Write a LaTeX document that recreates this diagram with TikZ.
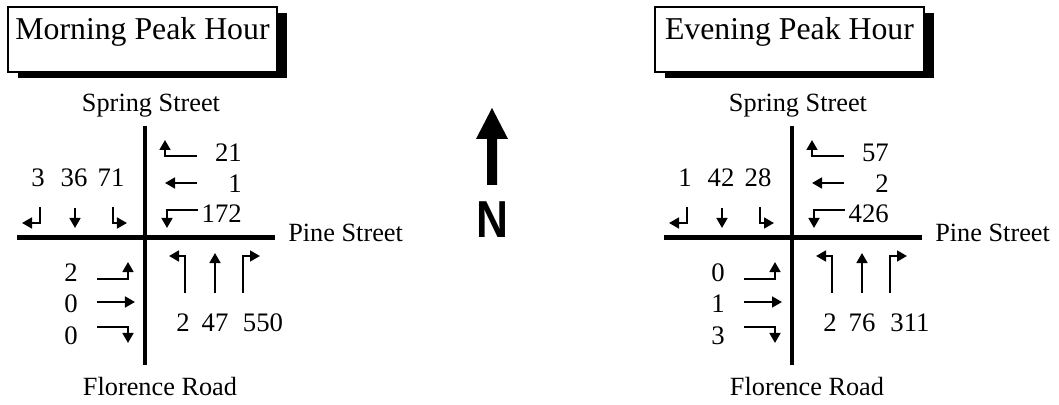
\documentclass[tikz,border=0pt]{standalone}
\usepackage{fontspec}
\setmainfont{Liberation Serif}
\setsansfont{Liberation Sans}
\usetikzlibrary{arrows.meta}

\tikzset{
  road/.style={line width=2.9pt},
  lane/.style={line width=1.6pt, -{Triangle[length=2.5mm,width=2.7mm]}},
  street/.style={font=\fontsize{18.7}{22}\selectfont, anchor=base, inner sep=0pt},
  volume/.style={font=\fontsize{19}{22}\selectfont, anchor=base, inner sep=0pt},
  headline/.style={font=\fontsize{22.6}{26}\selectfont, anchor=base, inner sep=0pt},
}

\begin{document}
\begin{tikzpicture}[x=0.025cm, y=-0.025cm]
    \useasboundingbox (0,0) rectangle (1059,405);

    % one crossing per peak hour
    \foreach \dx/\ttl/\sa/\sb/\sc/\wa/\wb/\wc/\ea/\eb/\ec/\na/\nb/\nc/\id in
        {145/Morning/3/36/71/21/1/172/2/0/0/2/47/550/am,
         792/Evening/1/42/28/57/2/426/0/1/3/2/76/311/pm}
    {
    \begin{scope}[shift={(\dx,237.5)}]
        \draw[road] (0,-111.5) -- (0,127.5);
        \draw[road] (-128,0) -- (130,0);

        % heading box with its shadow
        \fill (-127,-224.5) rectangle (142,-159.5);
        \draw[line width=0.8pt, fill=white] (-137,-230.5) rectangle (132,-165.5);
        \node[headline] (title-\id) at (-2.5,-198) {\ttl{} Peak Hour};

        \node[street] (spring-\id) at (6,-125.5) {Spring Street};
        \node[street, anchor=base west] (pine-\id) at (143,4.5) {Pine Street};
        \node[street] (florence-\id) at (15,158.5) {Florence Road};

        % southbound
        \draw[lane] (-105,-30.5) |- (-123,-14.5);
        \draw[lane] (-70,-29.5) -- (-70,-9.5);
        \draw[lane] (-32,-30.5) |- (-18,-14.5);
        \node[volume] (sr-\id) at (-107,-50.5) {\sa};
        \node[volume] (st-\id) at (-71,-50.5) {\sb};
        \node[volume] (sl-\id) at (-34,-50.5) {\sc};

        % westbound
        \draw[lane] (52,-81.5) -| (20,-97.5);
        \draw[lane] (52,-54.5) -- (20,-54.5);
        \draw[lane] (53,-27.5) -| (22,-9.5);
        \node[volume, anchor=base east] (wr-\id) at (97,-75.5) {\wa};
        \node[volume, anchor=base east] (wt-\id) at (97,-44.5) {\wb};
        \node[volume, anchor=base east] (wl-\id) at (97,-14.5) {\wc};

        % eastbound
        \draw[lane] (-48,41.5) -| (-17,24.5);
        \draw[lane] (-48,64.5) -- (-10,64.5);
        \draw[lane] (-48,89.5) -| (-17,105.5);
        \node[volume] (el-\id) at (-74,44.5) {\ea};
        \node[volume] (et-\id) at (-74,75.5) {\eb};
        \node[volume] (er-\id) at (-74,107.5) {\ec};

        % northbound
        \draw[lane] (40,55.5) |- (24,18.5);
        \draw[lane] (70,55.5) -- (70,15.5);
        \draw[lane] (98,55.5) |- (115,18.5);
        \node[volume] (nl-\id) at (38,94.5) {\na};
        \node[volume] (nt-\id) at (70,94.5) {\nb};
        \node[volume] (nr-\id) at (118,94.5) {\nc};
    \end{scope}
    }

    % north arrow
    \fill (487,185) -- (487,139) -- (476,139) -- (492,108) -- (508,139)
        -- (497,139) -- (497,185) -- cycle;
    \node[font=\sffamily\bfseries\fontsize{37}{40}\selectfont, anchor=base,
        inner sep=0pt, xscale=0.85] (north) at (492,238) {N};
\end{tikzpicture}
\end{document}
